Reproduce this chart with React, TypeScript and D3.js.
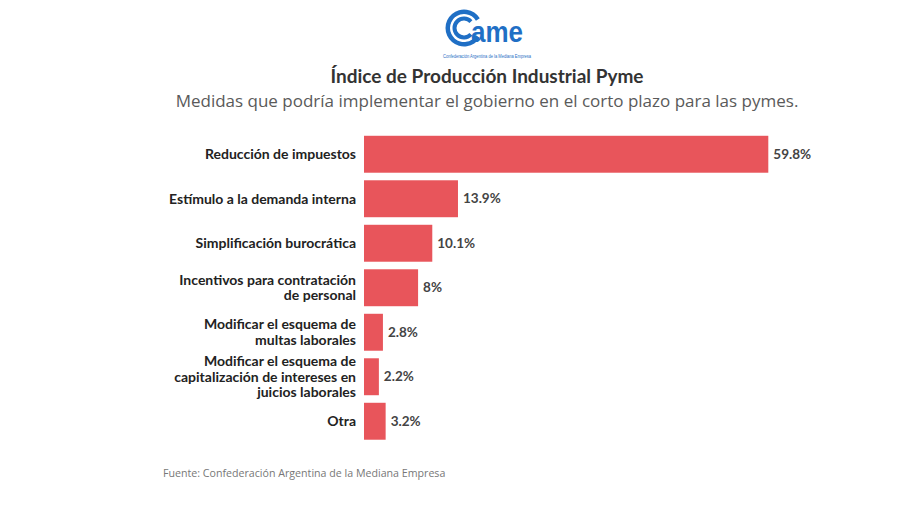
import React from "react";
import * as d3 from "d3";

const categories: string[][] = [
  ["Reducción de impuestos"],
  ["Estímulo a la demanda interna"],
  ["Simplificación burocrática"],
  ["Incentivos para contratación", "de personal"],
  ["Modificar el esquema de", "multas laborales"],
  ["Modificar el esquema de", "capitalización de intereses en", "juicios laborales"],
  ["Otra"],
];
const values: number[] = [59.8, 13.9, 10.1, 8, 2.8, 2.2, 3.2];
const valueLabels: string[] = ["59.8%", "13.9%", "10.1%", "8%", "2.8%", "2.2%", "3.2%"];

const title = "Índice de Producción Industrial Pyme";
const subtitle = "Medidas que podría implementar el gobierno en el corto plazo para las pymes.";
const source = "Fuente: Confederación Argentina de la Mediana Empresa";
const logoSub = "Confederación Argentina de la Mediana Empresa";

const W = 900;
const H = 506;
const BAR_COLOR = "#E8555B";
const LOGO_BLUE = "#1F6FC5";

export default function App() {
  const ids = categories.map((_, i) => String(i));
  const y = d3.scaleBand<string>().domain(ids).range([132, 443.5]).paddingInner(0.17).paddingOuter(0.085);
  const x = d3.scaleLinear().domain([0, 59.8]).range([364, 768.3]);
  const lineH = 15.5;

  const arcOuter = d3.arc()({ innerRadius: 14, outerRadius: 18.5, startAngle: Math.PI * 0.5 + 0.55, endAngle: Math.PI * 2.5 - 0.55 } as any) || "";
  const arcInner = d3.arc()({ innerRadius: 7.5, outerRadius: 11.5, startAngle: Math.PI * 0.5 + 0.75, endAngle: Math.PI * 2.5 - 0.75 } as any) || "";

  return (
    <svg width={W} height={H} style={{ position: "absolute", left: 0, top: 0, background: "#fff" }}>
      <rect width={W} height={H} fill="#fff" />
      {/* logo */}
      <g>
        <g transform="translate(464,28)">
          <path d={arcOuter} fill={LOGO_BLUE} />
          <path d={arcInner} fill={LOGO_BLUE} />
        </g>
        <text x={471} y={42} fontFamily="Liberation Sans, Arial, sans-serif" fontWeight={700} fontSize={29}
          fill={LOGO_BLUE} textLength={52} lengthAdjust="spacingAndGlyphs">ame</text>
        <text x={487} y={58} textAnchor="middle" fontFamily="Liberation Sans, Arial, sans-serif" fontSize={4.6}
          fill={LOGO_BLUE} textLength={88} lengthAdjust="spacingAndGlyphs">{logoSub}</text>
      </g>

      <text x={487} y={83} textAnchor="middle" fontFamily="Lato, sans-serif" fontWeight={700} fontSize={19} fill="#333">{title}</text>
      <text x={487} y={107} textAnchor="middle" fontFamily="Open Sans, sans-serif" fontSize={17} fill="#5a5a5a">{subtitle}</text>

      {categories.map((lines, i) => {
        const id = String(i);
        const y0 = y(id)!;
        const bw = y.bandwidth();
        const cy = y0 + bw / 2;
        const v = values[i];
        return (
          <g key={id}>
            <rect x={x(0)} y={y0} width={x(v) - x(0)} height={bw} fill={BAR_COLOR} />
            <text x={x(v) + 5} y={cy} dy="0.35em" fontFamily="Lato, sans-serif" fontWeight={700} fontSize={13.5} fill="#444">
              {valueLabels[i]}
            </text>
            <text x={356} y={cy - ((lines.length - 1) * lineH) / 2} textAnchor="end"
              fontFamily="Lato, sans-serif" fontWeight={700} fontSize={14} fill="#222">
              {lines.map((l, j) => (
                <tspan key={j} x={356} dy={j === 0 ? "0.35em" : lineH}>{l}</tspan>
              ))}
            </text>
          </g>
        );
      })}

      <text x={163} y={477} fontFamily="Open Sans, sans-serif" fontSize={10.65} fill="#777">{source}</text>
    </svg>
  );
}
